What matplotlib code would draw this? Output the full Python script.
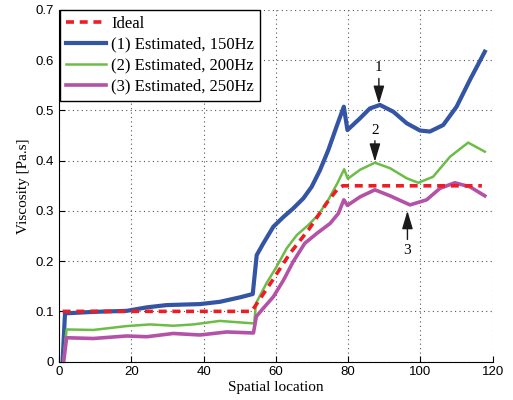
import numpy as np
import matplotlib.pyplot as plt

# data
x_ideal = [1, 53.3, 58.8, 63.9, 69, 74, 77, 78.5, 117]
y_ideal = [0.1, 0.1, 0.159, 0.2155, 0.262, 0.315, 0.343, 0.35, 0.35]

x_150 = [1.0, 1.66, 9.5, 18.7, 24.3, 29.8, 39, 44.5, 50.1, 53.6, 54.7, 56.5, 59.3, 62.1, 64.8,
         67.6, 69.9, 72.2, 74.5, 76.8, 78.8, 79.8, 83.3, 86, 88.8, 92.5, 96.2, 99.9, 102.6,
         106.3, 110, 113.7, 117.8]
y_150 = [0.0, 0.096, 0.099, 0.101, 0.108, 0.1125, 0.1145, 0.119, 0.128, 0.1345, 0.212, 0.235,
         0.2685, 0.288, 0.305, 0.325, 0.348, 0.381, 0.421, 0.468, 0.5075, 0.461, 0.4845, 0.504,
         0.511, 0.4975, 0.4745, 0.46, 0.458, 0.471, 0.5075, 0.561, 0.617]

x_200 = [1.2, 2.1, 9.5, 18.7, 25.2, 31.6, 37.2, 44.5, 50.1, 54, 54.5, 57.4, 60.2, 63, 65.8, 69,
         71.7, 74.5, 77, 78.9, 79.9, 83.3, 87.4, 91.6, 96.2, 99.4, 103.5, 108.2, 113.2, 117.8]
y_200 = [0.0, 0.064, 0.063, 0.0707, 0.074, 0.0714, 0.074, 0.081, 0.078, 0.076, 0.116, 0.156,
         0.189, 0.2255, 0.252, 0.272, 0.292, 0.322, 0.355, 0.383, 0.364, 0.382, 0.396, 0.385,
         0.365, 0.356, 0.368, 0.408, 0.436, 0.418]

x_250 = [1.3, 2.1, 9.5, 18.7, 24.3, 31.6, 39, 46.4, 53.8, 54.6, 56.5, 59.3, 62.1, 64.8, 68,
         71.3, 75, 77.3, 78.8, 79.8, 83.3, 87.4, 91.6, 97.1, 101.7, 105.4, 109.5, 113.7, 117.8]
y_250 = [0.0, 0.0475, 0.046, 0.051, 0.0495, 0.056, 0.053, 0.059, 0.057, 0.09, 0.106, 0.129,
         0.162, 0.199, 0.2355, 0.255, 0.275, 0.295, 0.322, 0.311, 0.328, 0.342, 0.33, 0.312,
         0.322, 0.345, 0.356, 0.348, 0.33]

serif = 'Liberation Serif'
sans = 'Liberation Sans'

fig = plt.figure(figsize=(5.13, 4.0), dpi=100)
ax = fig.add_axes([0.115, 0.096, 0.8455, 0.879])

ax.plot(x_150, y_150, color='#3454a4', lw=3.0, label='(1) Estimated, 150Hz', zorder=3,
        solid_joinstyle='round')
ax.plot(x_200, y_200, color='#6cbd45', lw=1.8, label='(2) Estimated, 200Hz', zorder=3,
        solid_joinstyle='round')
ax.plot(x_250, y_250, color='#b452a8', lw=2.6, label='(3) Estimated, 250Hz', zorder=3,
        solid_joinstyle='round')
ax.plot(x_ideal, y_ideal, color='#ee1c24', lw=2.6, ls=(0, (2.2, 1.6)), label='Ideal', zorder=4)

# annotations with arrows
arrow = dict(arrowstyle='-|>,head_length=1.0,head_width=0.3', color='#1a1a1a', lw=1,
             shrinkA=1, shrinkB=0)
ax.annotate('1', xy=(88.5, 0.513), xytext=(88.5, 0.585), ha='center', va='center',
            fontsize=11, family=serif, arrowprops=arrow)
ax.annotate('2', xy=(87.4, 0.398), xytext=(87.4, 0.461), ha='center', va='center',
            fontsize=11, family=serif, arrowprops=arrow)
ax.annotate('3', xy=(96.4, 0.30), xytext=(96.4, 0.222), ha='center', va='center',
            fontsize=11, family=serif, arrowprops=arrow)

ax.set_xlim(0, 120)
ax.set_ylim(0, 0.7)
ax.set_xticks(np.arange(0, 121, 20))
ax.set_yticks(np.arange(0, 0.71, 0.1))
ax.set_yticklabels(['0', '0.1', '0.2', '0.3', '0.4', '0.5', '0.6', '0.7'])
ax.grid(True, ls=(0, (1, 3)), color='#555555', lw=0.8)
ax.set_axisbelow(True)
ax.spines['top'].set_visible(False)
ax.spines['right'].set_visible(False)
ax.tick_params(direction='in', labelsize=9.5, length=4)
for lab in ax.get_xticklabels() + ax.get_yticklabels():
    lab.set_family(sans)

ax.set_xlabel('Spatial location', family=serif, fontsize=11, labelpad=2)
ax.set_ylabel('Viscosity [Pa.s]', family=serif, fontsize=11, labelpad=4)

h, l = ax.get_legend_handles_labels()
order = [3, 0, 1, 2]
leg = ax.legend([h[i] for i in order], [l[i] for i in order], loc='upper left',
                bbox_to_anchor=(0.003, 1.0), prop={'family': serif, 'size': 12},
                fancybox=False, edgecolor='black', framealpha=1, handlelength=2.4,
                handletextpad=0.3, borderpad=0.35, labelspacing=0.3, borderaxespad=0)
leg.get_frame().set_linewidth(1.0)

plt.savefig('out.png', dpi=100)
